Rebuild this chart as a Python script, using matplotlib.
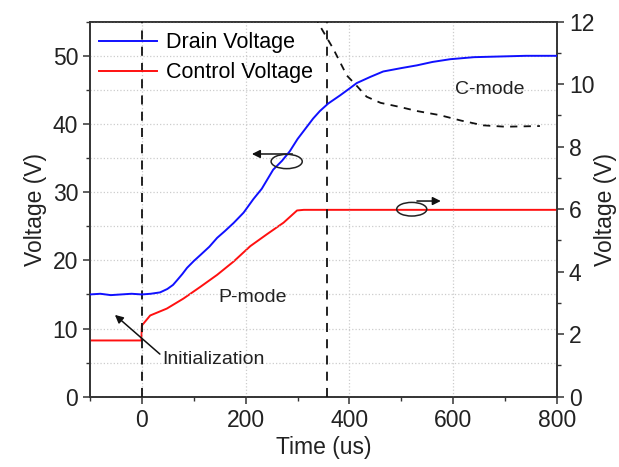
import matplotlib

matplotlib.use("Agg")
import matplotlib.pyplot as plt
from matplotlib.patches import Ellipse
from matplotlib.ticker import MultipleLocator

# --- data ---
drain_t = [-100, -80, -60, -40, -20, 0, 17, 35, 49, 60, 68, 78, 87, 100, 113, 130, 145, 160,
           177, 196, 215, 231, 253, 270, 285, 300, 317, 330, 343, 359, 382, 400, 414, 440,
           465, 500, 530, 560, 594, 640, 690, 740, 800]
drain_v = [15.0, 15.1, 14.9, 15.0, 15.1, 15.0, 15.1, 15.3, 15.8, 16.4, 17.1, 18.0, 18.9, 19.9,
           20.8, 22.0, 23.3, 24.3, 25.5, 27.0, 29.0, 30.5, 33.3, 34.6, 36.0, 37.8, 39.5, 40.8,
           41.9, 43.0, 44.2, 45.2, 46.0, 46.9, 47.7, 48.2, 48.6, 49.1, 49.5, 49.8, 49.9, 50.0, 50.0]

control_t = [-100, -50, -1, 0, 16, 48, 80, 113, 145, 177, 209, 241, 273, 299, 312, 400, 500, 600, 700, 800]
control_v = [1.8, 1.8, 1.8, 2.28, 2.60, 2.82, 3.14, 3.52, 3.90, 4.33, 4.82, 5.20, 5.57, 5.96,
             5.98, 5.98, 5.98, 5.98, 5.98, 5.98]

cmode_t = [333, 343, 369, 395, 414, 433, 460, 497, 530, 574, 615, 658, 700, 767]
cmode_v = [55.8, 54.4, 51.0, 47.1, 45.6, 44.0, 43.1, 42.5, 41.9, 41.3, 40.5, 39.8, 39.6, 39.7]

mode_lines = [0, 357]

plt.rcParams["font.family"] = ["Liberation Sans", "DejaVu Sans"]
text_color = "#222222"

fig = plt.figure(figsize=(6.19, 4.67), dpi=100)
ax = fig.add_axes([0.1454, 0.1505, 0.7545, 0.803])
ax2 = ax.twinx()

ax.set_xlim(-100, 800)
ax.set_ylim(0, 55)
ax2.set_ylim(0, 12)

# grid
ax.xaxis.set_major_locator(MultipleLocator(200))
ax.xaxis.set_minor_locator(MultipleLocator(100))
ax.yaxis.set_major_locator(MultipleLocator(10))
ax.yaxis.set_minor_locator(MultipleLocator(5))
ax2.yaxis.set_major_locator(MultipleLocator(2))
ax2.yaxis.set_minor_locator(MultipleLocator(1))
ax.grid(True, which="major", axis="x", color="#cccccc", linestyle=":", linewidth=0.9)
ax.grid(True, which="both", axis="y", color="#cccccc", linestyle=":", linewidth=0.9)

for x in mode_lines:
    ax.axvline(x, color="#111111", linestyle=(0, (5, 4)), linewidth=1.3, zorder=3)

ax.plot(cmode_t, cmode_v, color="#111111", linestyle=(0, (4, 3.5)), linewidth=1.3, zorder=3)
line_d, = ax.plot(drain_t, drain_v, color="#1010ff", linewidth=1.4, zorder=4, label="Drain Voltage")
line_c, = ax2.plot(control_t, control_v, color="#ff1010", linewidth=1.4, zorder=4, label="Control Voltage")

# annotations
ax.text(603, 45, "C-mode", fontsize=14, color=text_color, va="center")
ax.text(147, 14.6, "P-mode", fontsize=14, color=text_color, va="center")
ax.annotate("Initialization", xy=(-52, 12.0), xytext=(40, 5.4), fontsize=14, color=text_color,
            va="center", ha="left",
            arrowprops=dict(arrowstyle="-|>", color="#111111", lw=1.1, mutation_scale=12,
                            shrinkA=0, shrinkB=0, relpos=(0, 0.7)))

ax.add_patch(Ellipse((279, 34.5), 60, 2.1, fill=False, edgecolor="#222222", linewidth=1.1, zorder=5))
ax.annotate("", xy=(212, 35.6), xytext=(290, 35.6),
            arrowprops=dict(arrowstyle="-|>", color="#111111", lw=1.1, mutation_scale=12,
                            shrinkA=0, shrinkB=0))
ax.add_patch(Ellipse((520, 27.5), 58, 2.0, fill=False, edgecolor="#222222", linewidth=1.1, zorder=5))
ax.annotate("", xy=(576, 28.7), xytext=(530, 28.7),
            arrowprops=dict(arrowstyle="-|>", color="#111111", lw=1.1, mutation_scale=12,
                            shrinkA=0, shrinkB=0))

# axes styling
for a in (ax, ax2):
    for s in a.spines.values():
        s.set_color("#333333")
        s.set_linewidth(1.2)
    a.tick_params(which="major", direction="out", length=5, width=1.1, colors="#333333",
                  labelsize=16.5, labelcolor=text_color)
    a.tick_params(which="minor", direction="out", length=3, width=1.0, colors="#333333")
ax.tick_params(axis="x", pad=4)

ax.set_xlabel("Time (us)", fontsize=16.5, color=text_color, labelpad=3)
ax.set_ylabel("Voltage (V)", fontsize=16.5, color=text_color, labelpad=4)
ax2.set_ylabel("Voltage (V)", fontsize=16.5, color=text_color, labelpad=0)

ax.legend(handles=[line_d, line_c], loc="upper left", frameon=False, fontsize=15.5,
          handlelength=2.7, handletextpad=0.45, labelspacing=0.42,
          borderaxespad=0.0, bbox_to_anchor=(0.0, 0.995))

ax.set_zorder(ax2.get_zorder() + 1)
ax.patch.set_visible(False)

fig.savefig("out.png", dpi=100)
